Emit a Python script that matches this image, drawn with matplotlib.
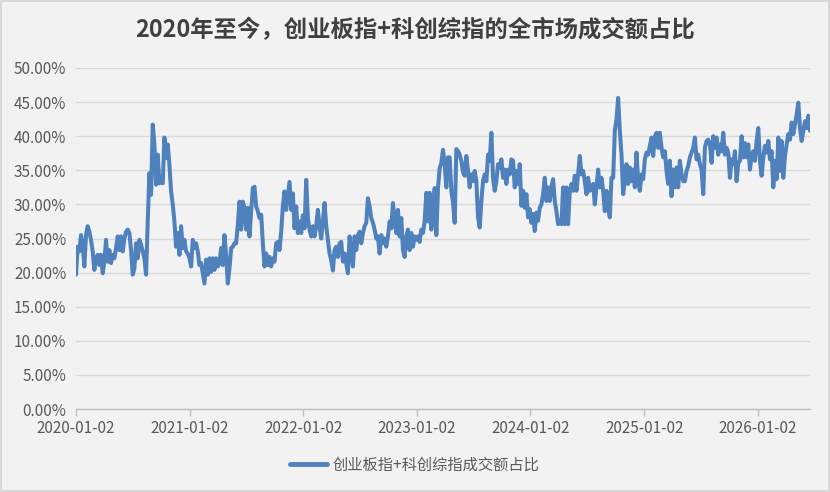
import matplotlib
matplotlib.use("Agg")
import matplotlib.pyplot as plt
import matplotlib.dates as mdates
import matplotlib.ticker as mticker
import pandas as pd

plt.rcParams['font.family'] = ['Noto Sans CJK SC', 'DejaVu Sans']

title = "2020年至今，创业板指+科创综指的全市场成交额占比"
series_name = "创业板指+科创综指成交额占比"
start_date = "2020-01-02"
end_date = "2026-06-19"
x_tick_labels = ["2020-01-02", "2021-01-02", "2022-01-02", "2023-01-02",
                 "2024-01-02", "2025-01-02", "2026-01-02"]
y_ticks = [0, 5, 10, 15, 20, 25, 30, 35, 40, 45, 50]

# values (%), roughly one per week
vals_2020_21 = [
    19.7, 23.8, 23.1, 25.5, 24.1, 20.9, 25.5, 26.8, 26.0, 24.8, 23.1, 20.4, 22.1, 22.6, 21.1, 22.6,
    19.9, 21.6, 24.8, 21.6, 23.3, 21.4, 22.6, 22.1, 23.6, 25.3, 23.3, 25.3, 23.1, 25.0, 26.0, 26.3,
    25.8, 23.3, 19.7, 20.6, 24.3, 22.1, 24.8, 24.1, 23.1, 22.1, 19.7, 27.5, 34.6, 31.4, 41.7, 38.8,
    32.9, 37.3, 33.1, 33.4, 33.1, 39.8, 36.8, 38.8, 35.8, 31.9, 30.0, 27.5, 23.8, 25.8, 22.6, 26.8,
    23.6, 24.8, 23.1, 22.8, 22.1, 20.9, 24.8, 23.6, 24.3, 23.1, 21.1, 21.4, 19.9, 18.4, 21.9, 19.7,
    22.1, 20.1, 22.1, 20.4, 22.1, 20.9, 21.4, 23.6, 21.1, 25.5, 22.6, 18.4, 20.6, 23.6, 23.8, 24.3,
    24.3, 27.0, 30.4, 26.3, 30.4, 29.5, 26.3, 29.5, 25.3, 29.0, 32.4, 32.6, 29.7, 29.0, 28.0,
]
vals_2021_23 = [
    28.5, 24.3, 20.9, 22.8, 21.1, 22.3, 20.9, 22.1, 21.6, 24.3, 24.5, 23.3, 26.0, 29.7, 31.9, 29.2,
    31.2, 33.3, 29.2, 31.6, 26.5, 29.7, 25.8, 27.5, 25.8, 28.4, 26.5, 33.6, 28.0, 26.3, 25.3, 26.8,
    25.3, 26.8, 29.2, 26.8, 25.0, 27.5, 30.2, 26.8, 24.8, 22.8, 21.8, 20.3, 23.3, 23.8, 22.3, 24.3,
    24.5, 21.6, 22.8, 21.3, 19.9, 25.3, 23.3, 20.9, 25.3, 23.3, 25.5, 26.0, 24.3, 25.8, 26.8, 27.3,
    30.9, 29.7, 28.0, 27.3, 26.3, 25.0, 25.3, 22.8, 25.5, 24.3, 25.0, 23.8, 25.3, 27.5, 26.5, 30.2,
    27.5, 25.8, 29.2, 25.3, 28.0, 23.3, 22.3, 25.3, 26.3, 23.3, 25.8, 23.8, 25.3, 24.8, 25.3, 24.5,
    26.3, 25.8, 27.5, 31.7, 27.5, 31.7, 26.3, 28.7, 32.4, 25.5, 32.4, 35.3, 36.1, 38.0,
]
vals_2023_24 = [
    35.9, 32.5, 36.9, 36.9, 32.0, 30.3, 27.3, 38.1, 37.8, 37.3, 36.4, 34.7, 34.2, 37.1, 34.9, 32.5,
    34.4, 33.4, 34.9, 33.4, 28.1, 26.6, 30.5, 33.4, 34.4, 33.4, 37.3, 36.4, 40.5, 33.9, 32.0, 33.4,
    35.9, 35.4, 36.6, 33.9, 35.1, 33.0, 35.1, 34.4, 36.6, 36.4, 32.5, 34.9, 33.0, 35.9, 29.8, 32.0,
    29.5, 31.5, 28.1, 29.3, 27.3, 28.6, 26.1, 28.8, 27.6, 29.5, 30.0, 31.5, 33.9, 30.5, 32.5, 30.5,
    32.5, 33.7, 30.5, 29.0, 27.1, 27.6, 27.1, 32.5, 27.1, 32.5, 27.1, 32.0, 33.0, 32.0, 34.2, 32.0,
    34.4, 37.1, 34.4, 34.9, 33.4, 31.5, 33.9, 32.0, 32.5, 33.0, 30.0, 32.5, 35.1, 32.5, 33.9, 32.0,
    29.0, 32.0, 29.5, 28.1, 33.9, 33.9, 40.8, 42.5, 45.6, 40.8, 37.3, 31.5, 33.4, 35.9,
]
vals_2025_26 = [
    33.0, 35.4, 33.4, 35.1, 32.5, 37.6, 33.4, 32.0, 34.4, 33.7, 36.6, 37.6, 37.3, 38.6, 39.8, 37.1,
    40.0, 40.5, 38.3, 40.5, 38.3, 36.9, 37.8, 34.9, 33.0, 36.4, 31.2, 35.1, 32.5, 35.4, 32.5, 36.4,
    34.4, 33.4, 33.4, 34.9, 35.6, 36.9, 37.6, 38.3, 39.8, 36.6, 37.3, 35.9, 35.1, 31.5, 38.3, 39.3,
    39.5, 38.8, 36.1, 40.0, 38.3, 39.8, 37.3, 38.8, 37.8, 40.5, 37.3, 38.3, 37.6, 33.9, 36.6, 35.9,
    37.8, 33.4, 36.1, 36.4, 40.0, 36.9, 39.0, 36.9, 38.8, 35.1, 37.1, 37.8, 36.4, 39.3, 41.2, 36.4,
    34.2, 36.9, 38.6, 37.6, 39.3, 36.6, 37.8, 32.5, 36.4, 33.7, 39.8, 34.9, 39.3, 33.9, 37.1, 38.8,
    40.3, 39.5, 42.0, 40.3, 41.7, 43.2, 44.9, 41.2, 39.3, 40.8, 42.2, 41.2, 43.0, 40.8,
]

values = vals_2020_21 + vals_2021_23 + vals_2023_24 + vals_2025_26
dates = pd.date_range(start_date, end_date, periods=len(values))
values_frac = [v / 100.0 for v in values]

line_color = '#4F81BD'
bg = '#F2F2F2'

fig = plt.figure(figsize=(8.30, 4.92), dpi=100, facecolor=bg,
                 edgecolor='#D9D9D9', linewidth=1.5)
ax = fig.add_axes([76 / 830, 1 - 409 / 492, (810 - 76) / 830, (409 - 68) / 492])
ax.set_facecolor(bg)

ax.plot(dates, values_frac, color=line_color, linewidth=2.9,
        solid_joinstyle='round', solid_capstyle='round', label=series_name)

ax.set_ylim(0, 0.5)
ax.set_yticks([t / 100 for t in y_ticks])
ax.yaxis.set_major_formatter(mticker.PercentFormatter(xmax=1.0, decimals=2))
ax.set_xlim(pd.Timestamp(start_date), pd.Timestamp(end_date))
ax.set_xticks([pd.Timestamp(d) for d in x_tick_labels])
ax.set_xticklabels(x_tick_labels)

ax.grid(axis='y', color='#D9D9D9', linewidth=1.0)
ax.set_axisbelow(True)
for s in ['top', 'right', 'left']:
    ax.spines[s].set_visible(False)
ax.spines['bottom'].set_color('#BFBFBF')
ax.spines['bottom'].set_linewidth(1.0)

ax.tick_params(axis='y', length=0, pad=7, labelsize=11, labelcolor='#595959')
ax.tick_params(axis='x', length=5, width=1.0, color='#BFBFBF', pad=3,
               labelsize=11, labelcolor='#595959')

fig.text(0.5, 1 - 30 / 492, title, ha='center', va='center',
         fontsize=16.8, fontweight='bold', color='#404040')

leg = fig.legend(loc='center', bbox_to_anchor=(0.5, 1 - 465 / 492), frameon=False,
                 fontsize=11, handlelength=2.4, handletextpad=0.4)
for t in leg.get_texts():
    t.set_color('#595959')
for h in leg.legend_handles:
    h.set_linewidth(3.5)

fig.savefig('out.png', dpi=100, facecolor=fig.get_facecolor(),
            edgecolor=fig.get_edgecolor())
